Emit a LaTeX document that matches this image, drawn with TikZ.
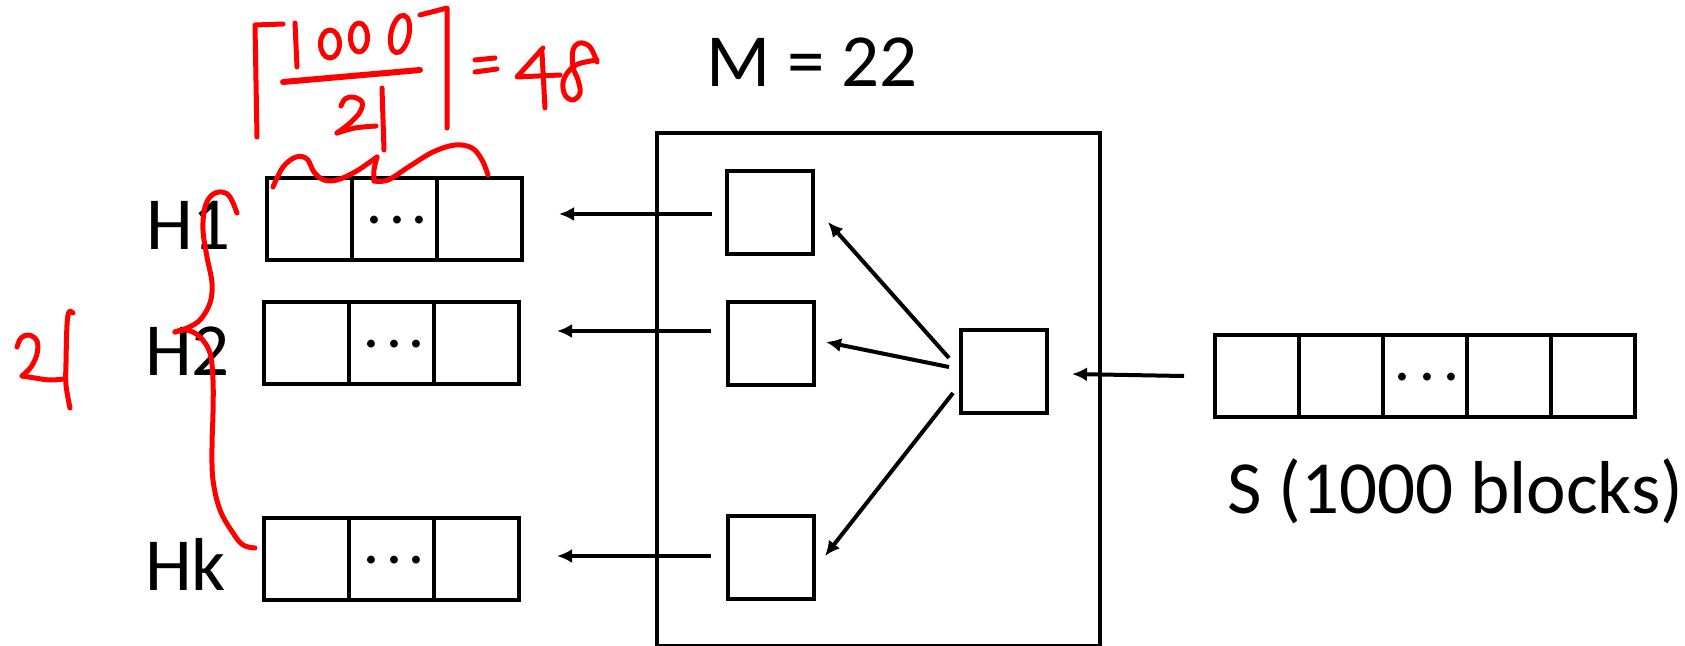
\documentclass[tikz,border=0pt]{standalone}
\usepackage{fontspec}
\setmainfont{Carlito}
\usetikzlibrary{arrows.meta,calc}
\begin{document}
\begin{tikzpicture}[x=1pt,y=-1pt,
  cell/.style={draw, line width=4pt, minimum width=85pt, minimum height=82pt, inner sep=0pt, outer sep=0pt},
  inbox/.style={draw, line width=4pt, minimum width=86pt, minimum height=83pt, inner sep=0pt, outer sep=0pt},
  scell/.style={draw, line width=4pt, minimum width=84pt, minimum height=82pt, inner sep=0pt, outer sep=0pt},
  lbl/.style={inner sep=0pt, outer sep=0pt, anchor=base west, font=\fontsize{75}{90}\selectfont},
  dotsl/.style={inner sep=0pt, outer sep=0pt, anchor=base, font=\fontsize{55}{60}\selectfont},
  arr/.style={line width=4pt, -{Latex[length=15pt,width=14pt]}},
  ink/.style={draw=red, line width=5pt, line cap=round, line join=round}
]
\useasboundingbox (0,0) rectangle (1685,645);

% memory
\node[draw, line width=4pt, minimum width=443pt, minimum height=513pt, inner sep=0pt, outer sep=0pt] (mem) at (878.5,389.5) {};
\node[lbl] (mlab) at (706,86) {M = 22};

% inner buffers
\node[inbox] (mt) at (770,212.5) {};
\node[inbox] (mm) at (771,343) {};
\node[inbox] (mb) at (771,557.5) {};
\node[inbox] (mr) at (1004,371.5) {};

% H arrays
\node[cell] (h1a) at (309.5,219) {};
\node[cell] (h1b) at (394.5,219) {};
\node[cell] (h1c) at (479.5,219) {};
\node[cell] (h2a) at (306.5,343) {};
\node[cell] (h2b) at (391.5,343) {};
\node[cell] (h2c) at (476.5,343) {};
\node[cell] (hka) at (306.5,559) {};
\node[cell] (hkb) at (391.5,559) {};
\node[cell] (hkc) at (476.5,559) {};
\node[dotsl] (d1) at (397,235) {·\kern9pt·\kern9pt·};
\node[dotsl] (d2) at (394,359) {·\kern9pt·\kern9pt·};
\node[dotsl] (dk) at (394,575) {·\kern9pt·\kern9pt·};

\node[lbl] (h1lab) at (146,249) {H1};
\node[lbl] (h2lab) at (145,375) {H2};
\node[lbl] (hklab) at (145,590) {Hk};

% S array
\node[scell] (s1) at (1257,376) {};
\node[scell] (s2) at (1341,376) {};
\node[scell] (s3) at (1425,376) {};
\node[scell] (s4) at (1509,376) {};
\node[scell] (s5) at (1593,376) {};
\node[dotsl] (ds) at (1427,392) {·\kern11pt·\kern11pt·};
\node[lbl] (slab) at (1227,513) {S (1000 blocks)};

% arrows
\draw[arr] ($(mt.west)+(-15,1.5)$) -- ($(h1c.east |- mt.west)+(37,1.5)$);
\draw[arr] ($(mm.west)+(-17,-12)$) -- ($(h2c.east |- mm.west)+(38,-12)$);
\draw[arr] ($(mb.west)+(-17,-1.5)$) -- ($(hkc.east |- mb.west)+(38,-1.5)$);
\draw[arr] ($(mr.west)+(-12,-13.5)$) -- ($(mt.east)+(15,9.5)$);
\draw[arr] ($(mr.west)+(-12,-4.5)$) -- ($(mm.east)+(12,-1)$);
\draw[arr] ($(mr.west)+(-8,21.5)$) -- ($(mb.east)+(11,-1.5)$);
\draw[arr] ($(s1.west)+(-31,0)$) -- ($(mr.east)+(25,2.5)$);

% red handwriting: ceiling formula
\draw[ink] (283,24) -- (255,25) -- (257,137);
\draw[ink] (295,23) -- (297,67);
\draw[ink] (330,44) ellipse [x radius=9.5pt, y radius=14pt];
\draw[ink] (359,37.5) ellipse [x radius=8.5pt, y radius=14.5pt];
\draw[ink, rotate around={-12:(400,34)}] (400,34) ellipse [x radius=9pt, y radius=19pt];
\draw[ink, line width=6pt] (283,82) -- (420,70);
\draw[ink] plot[smooth, tension=0.6] coordinates {(341,106) (345,99) (353,97) (362,102) (360,112) (350,123) (337,133)};
\draw[ink] plot[smooth, tension=0.6] coordinates {(337,133) (355,128) (376,126)};
\draw[ink] (382,88) -- (384,150);
\draw[ink] (420,15) -- (447,8) -- (447,128);
\draw[ink] (475,60) -- (495,58);
\draw[ink] (475,72) -- (497,69);
\draw[ink] (543,48) -- (517,77) -- (560,75);
\draw[ink] (542,53) -- (545,108);
\draw[ink] plot[smooth, tension=0.6] coordinates {(597,62) (590,47) (580,43) (573,50) (573,67) (578,80) (580,93) (573,100) (565,95) (563,83) (568,72) (578,64) (597,60)};

% brace over H1
\draw[ink] plot[smooth, tension=0.6] coordinates {(273,187) (283,167) (296,157) (307,159) (314,172) (324,180) (337,180) (355,172) (370,162) (377,157)};
\draw[ink] plot[smooth, tension=0.6] coordinates {(377,157) (374,170) (374,181)};
\draw[ink] plot[smooth, tension=0.6] coordinates {(374,181) (388,180) (410,166) (433,152) (455,145) (472,148) (482,160) (488,175)};

% left brace
\draw[ink] plot[smooth, tension=0.6] coordinates {(237,213) (230,197) (222,192) (212,195) (205,207) (203,230) (207,257) (212,283) (210,303) (200,320) (187,328) (175,332)};
\draw[ink] plot[smooth, tension=0.6] coordinates {(175,332) (187,330) (200,337) (210,353) (213,380) (213,413) (212,447) (213,480) (220,510) (233,533) (243,545) (255,548)};

% "21" at left
\draw[ink] plot[smooth, tension=0.6] coordinates {(17,347) (21,338) (29,335) (37,341) (37,354) (31,367) (22,376)};
\draw[ink] plot[smooth, tension=0.6] coordinates {(22,376) (35,378) (50,380) (64,379)};
\draw[ink] plot[smooth, tension=0.6] coordinates {(73,313) (69,312) (67,325) (66,363) (66,385) (70,408)};
\end{tikzpicture}
\end{document}
